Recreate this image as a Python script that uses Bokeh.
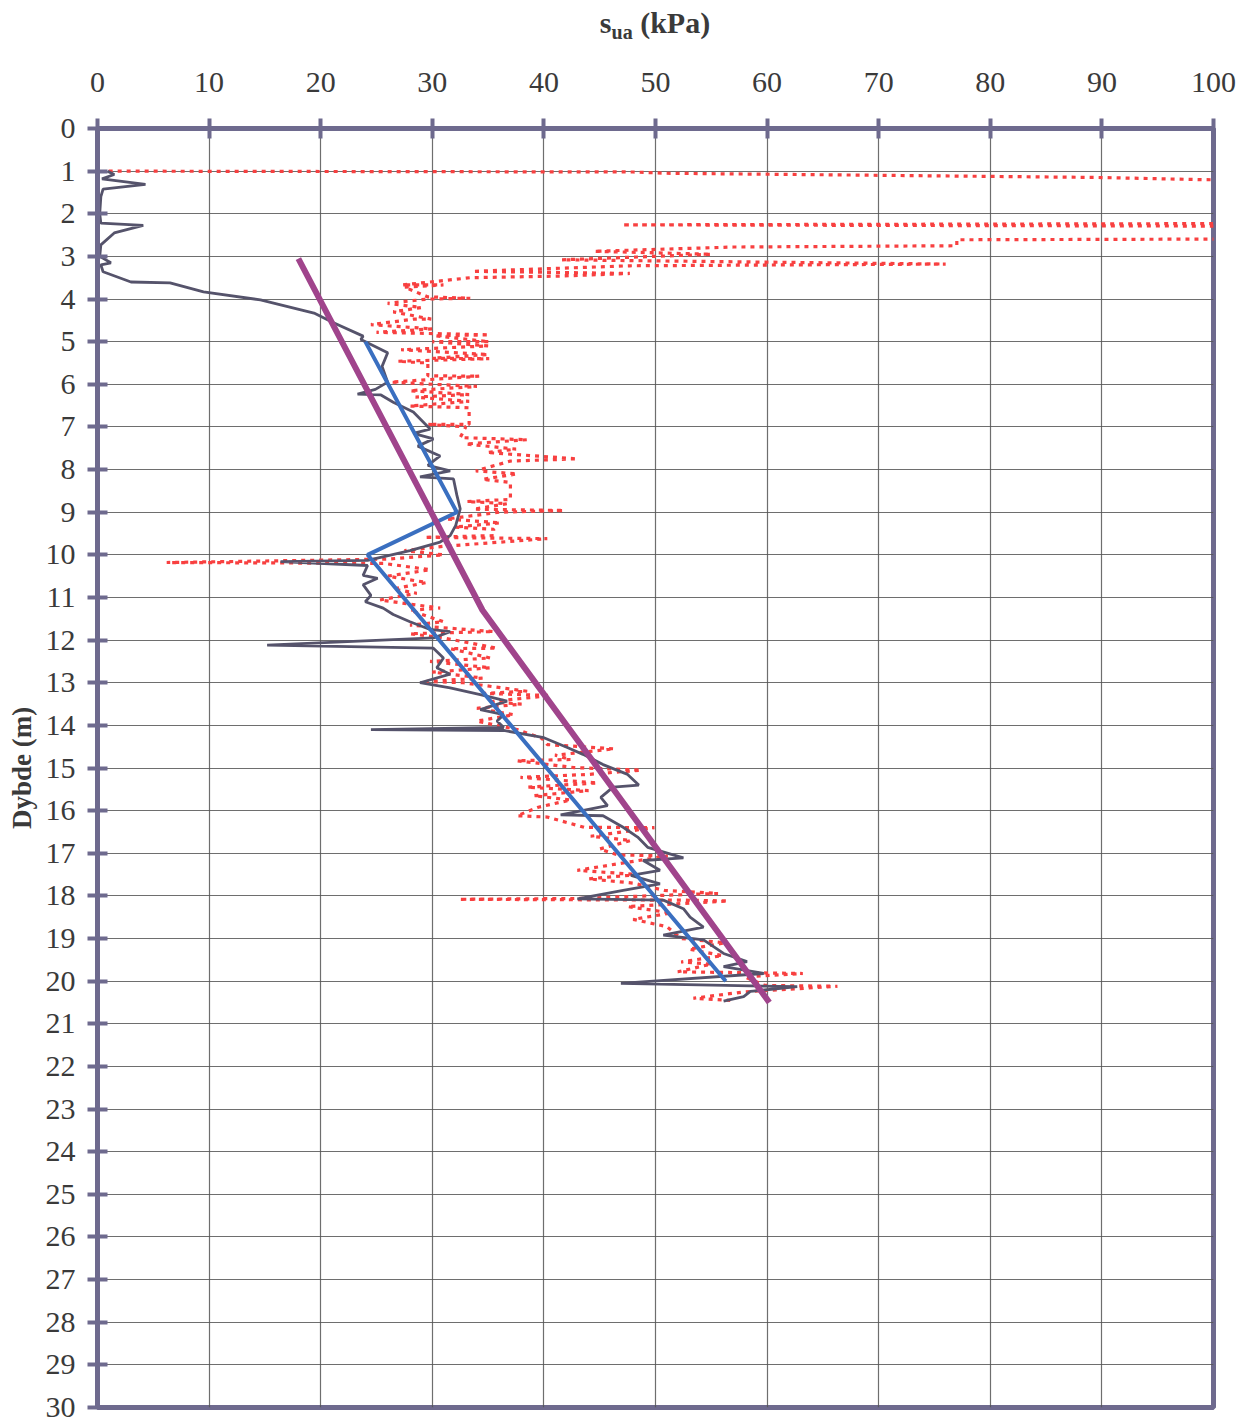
from bokeh.plotting import figure
from bokeh.models import Range1d, FixedTicker, Div
from bokeh.layouts import column
from bokeh.embed import file_html
from bokeh.resources import INLINE

# ---- data (s_ua in kPa, depth in m) ----
x_ticks = list(range(0, 101, 10))
y_ticks = list(range(0, 31))

gray_sua = [0.9, 1.5, 0.4, 4.3, 0.5, 0.3, 0.2, 0.3, 4.1, 1.5, 0.3, 0.2, 1.2, 0.3, 0.5,
            3.0, 6.5, 9.5, 14.6, 19.4, 21.1, 23.8, 23.6, 26.0, 25.5, 26.0, 24.9, 23.3,
            25.4, 26.5, 28.3, 29.8, 28.3, 30.1, 28.7, 30.7, 29.6, 31.6, 28.9, 31.9,
            32.2, 32.5, 32.1, 31.6, 30.7, 28.0, 24.2, 16.4, 24.2, 23.8, 25.1, 23.8,
            24.5, 24.0, 25.6, 26.5, 28.0, 29.8, 31.6, 30.1, 15.2, 30.1, 31.0, 30.4,
            31.6, 28.9, 31.6, 34.3, 36.7, 34.3, 36.4, 35.8, 36.4, 24.5, 36.4, 40.0,
            42.1, 43.5, 45.3, 47.5, 48.5, 46.2, 45.1, 45.7, 41.5, 45.3, 47.1, 48.4,
            49.3, 52.5, 48.9, 50.4, 47.8, 50.4, 47.1, 43.0, 50.7, 52.5, 53.1, 54.3,
            50.7, 54.3, 56.1, 58.2, 56.1, 59.7, 46.9, 62.7, 58.5, 57.9, 56.1]
gray_depth = [1.00, 1.08, 1.18, 1.31, 1.42, 1.60, 2.00, 2.22, 2.27, 2.45, 2.73, 3.00,
              3.15, 3.20, 3.36, 3.60, 3.62, 3.83, 4.02, 4.33, 4.55, 4.87, 4.95, 5.26,
              5.58, 5.95, 6.12, 6.23, 6.25, 6.42, 6.65, 7.05, 7.15, 7.28, 7.45, 7.68,
              7.90, 8.03, 8.17, 8.22, 8.60, 8.92, 9.31, 9.55, 9.70, 9.90, 10.13, 10.16,
              10.25, 10.48, 10.55, 10.70, 10.95, 11.10, 11.25, 11.40, 11.57, 11.75,
              11.80, 11.95, 12.12, 12.19, 12.42, 12.65, 12.80, 13.00, 13.12, 13.28,
              13.43, 13.63, 13.75, 13.90, 14.05, 14.10, 14.12, 14.29, 14.52, 14.68,
              14.92, 15.15, 15.40, 15.45, 15.69, 15.88, 16.10, 16.12, 16.39, 16.62,
              16.86, 17.11, 17.17, 17.40, 17.52, 17.72, 17.87, 18.07, 18.10, 18.30,
              18.50, 18.73, 18.92, 19.03, 19.35, 19.54, 19.66, 19.82, 20.05, 20.13,
              20.24, 20.36, 20.47]

red_sua = [1.0, 48, 51, 71, 90, 99, 120,
           120, 47, 120,
           120, 77, 77, 57, 44.5, 55, 41.6, 55, 76, 47.7, 33.6, 47.7, 41.6, 33.4,
           27.3, 31, 27.5, 29.6, 33.4, 29.6, 26, 29, 26.5, 29.9, 28.4, 24.5, 30, 25,
           35.1, 30.2, 35.1, 30, 35, 27.2, 35, 30, 35.1, 26.9, 29.6, 29.6, 34.2, 26.3,
           34, 28, 33.3, 28.5, 33.3, 28, 33.3, 33.3, 29.6, 33, 32.5, 38.5, 33, 37.5,
           34.9, 43.0, 37, 33.9, 37.6, 34.5, 37.0, 37.0, 33.1, 36.7, 33.7, 41.8, 36,
           31.3, 36.1, 32, 35.5, 35.5, 29.3, 40.3, 31, 27.5, 31, 26, 6.2, 25.6, 29.8,
           26, 29.5, 26.5, 28.6, 25.3, 30.7, 28, 31, 28, 35.5, 28, 31, 35.8, 31.6,
           35.2, 29.8, 35.2, 30, 34.5, 29.5, 32.8, 38.5, 34.6, 40.6, 35, 38, 34, 37.3,
           34, 37.6, 39.8, 40.3, 46.3, 41, 42.4, 37.6, 42.7, 48.7, 44, 37.9, 44.8,
           38.5, 44, 39.1, 42.4, 39.5, 37.6, 40.3, 43.6, 49.9, 44.2, 47.8, 45, 46.6,
           51.1, 43, 48.4, 44, 48, 50.8, 55.6, 43, 32.4, 52.6, 56.5, 47.5, 51.4, 48,
           51, 52.3, 56.2, 53, 56, 52.3, 55, 52, 63.2, 58, 59.8, 66.3, 58, 53.4, 56.7]
red_depth = [1.00, 1.02, 1.05, 1.10, 1.15, 1.20, 1.25,
             2.22, 2.26, 2.30,
             2.58, 2.61, 2.75, 2.78, 2.88, 2.95, 3.08, 3.12, 3.18, 3.22, 3.35, 3.40,
             3.46, 3.50, 3.67, 3.67, 3.72, 3.95, 3.98, 4.00, 4.10, 4.20, 4.30, 4.47,
             4.47, 4.60, 4.70, 4.78, 4.84, 4.86, 5.00, 5.00, 5.10, 5.19, 5.30, 5.39,
             5.40, 5.46, 5.50, 5.80, 5.81, 5.95, 6.05, 6.15, 6.24, 6.30, 6.40, 6.51,
             6.55, 6.94, 6.94, 7.00, 7.25, 7.30, 7.40, 7.52, 7.60, 7.75, 7.80, 8.03,
             8.10, 8.23, 8.30, 8.70, 8.75, 8.80, 8.93, 8.96, 9.00, 9.16, 9.25, 9.35,
             9.40, 9.55, 9.59, 9.62, 9.80, 9.90, 10.00, 10.10, 10.18, 10.20, 10.35,
             10.50, 10.65, 10.80, 10.90, 11.06, 11.25, 11.30, 11.57, 11.65, 11.80,
             11.85, 11.95, 12.19, 12.20, 12.42, 12.50, 12.65, 12.75, 12.89, 12.97,
             13.00, 13.20, 13.25, 13.30, 13.45, 13.50, 13.60, 13.75, 13.90, 14.10,
             14.30, 14.45, 14.55, 14.70, 14.80, 14.83, 14.99, 15.05, 15.15, 15.22,
             15.35, 15.45, 15.53, 15.65, 15.75, 15.92, 16.12, 16.15, 16.39, 16.40,
             16.60, 16.70, 16.90, 17.04, 17.06, 17.40, 17.50, 17.60, 17.70, 17.87,
             17.94, 18.06, 18.08, 18.10, 18.12, 18.25, 18.40, 18.55, 18.72, 19.00,
             19.10, 19.25, 19.40, 19.55, 19.60, 19.78, 19.82, 19.90, 20.10, 20.12,
             20.25, 20.40, 20.45]

blue_sua = [24.0, 32.2, 24.2, 56.3]
blue_depth = [5.0, 9.0, 10.0, 20.0]

magenta_sua = [18.0, 34.5, 60.2]
magenta_depth = [3.05, 11.3, 20.5]

# ---- styling ----
AXIS_COL = "#6e6a8e"
GRID_COL = "#555555"
TXT_COL = "#3a3a3a"
FONT = "Liberation Serif"
TITLE_H = 45

title = Div(
    text=('<div style="width:1116px;margin-left:97px;text-align:center;'
          'line-height:%dpx;font-family:\'Liberation Serif\',serif;font-weight:bold;'
          'font-size:30px;color:%s;white-space:nowrap;">s<sub style="font-size:20px;'
          'vertical-align:-6px;line-height:0;">ua</sub> (kPa)</div>') % (TITLE_H, TXT_COL),
    width=1245, height=TITLE_H, margin=0)

p = figure(width=1245, height=1427 - TITLE_H, frame_width=1116, frame_height=1279,
           x_range=Range1d(0, 100), y_range=Range1d(30, 0),
           x_axis_location="above", output_backend="svg",
           toolbar_location=None, tools="",
           min_border_left=97, min_border_top=128 - TITLE_H, min_border_right=32,
           min_border_bottom=20)

p.background_fill_color = "white"
p.border_fill_color = "white"
p.outline_line_color = AXIS_COL
p.outline_line_width = 5

for ax, ticks in ((p.xaxis[0], x_ticks), (p.yaxis[0], y_ticks)):
    ax.ticker = FixedTicker(ticks=ticks)
    ax.axis_line_color = AXIS_COL
    ax.axis_line_width = 5
    ax.major_tick_line_color = AXIS_COL
    ax.major_tick_line_width = 4
    ax.major_tick_in = 10
    ax.major_tick_out = 10
    ax.minor_tick_line_color = None
    ax.major_label_text_font = FONT
    ax.major_label_text_font_size = "30px"
    ax.major_label_text_color = TXT_COL

p.xaxis.major_label_standoff = 27
p.yaxis.major_label_standoff = 12
p.yaxis.axis_label = "Dybde (m)"
p.yaxis.axis_label_text_font = FONT
p.yaxis.axis_label_text_font_size = "27px"
p.yaxis.axis_label_text_font_style = "bold"
p.yaxis.axis_label_text_color = TXT_COL
p.yaxis.axis_label_standoff = 6

p.xgrid.ticker = FixedTicker(ticks=x_ticks)
p.ygrid.ticker = FixedTicker(ticks=y_ticks)
p.grid.grid_line_color = GRID_COL
p.grid.grid_line_width = 1.2
p.grid.grid_line_alpha = 0.85

# series
p.line(red_sua, red_depth, line_color="#f84040", line_width=3.2, line_dash="4 5")
p.line(gray_sua, gray_depth, line_color="#55536b", line_width=2.8)
p.line(blue_sua, blue_depth, line_color="#3a6fc0", line_width=4)
p.line(magenta_sua, magenta_depth, line_color="#a0448c", line_width=6)

layout = column(title, p, spacing=0)
open("out.html", "w").write(file_html(layout, INLINE))
